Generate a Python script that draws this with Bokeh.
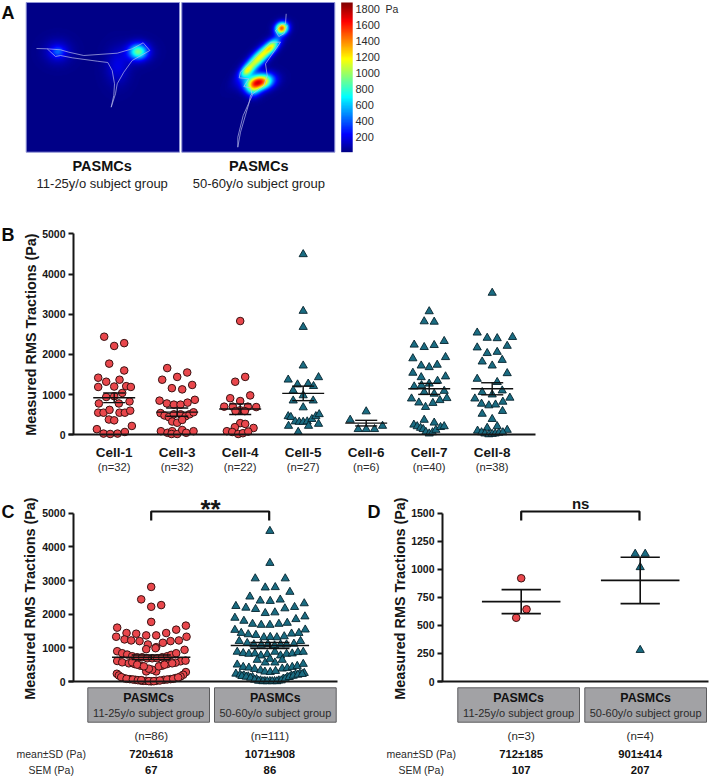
import math
import numpy as np
from bokeh.plotting import figure
from bokeh.models import Range1d, LinearAxis, FixedTicker, LinearColorMapper
from bokeh.core.properties import value
from bokeh.embed import file_html
from bokeh.resources import INLINE

W, H = 724, 777
FONT = "Liberation Sans"
RED = "#e9474c"
TEAL = "#1a6c82"
RED_EDGE = "#3a1212"
TEAL_EDGE = "#06222c"
INK = "#161616"

# ---------- panel B: values (Pa) and swarm offsets (thirds of a pixel) ----------
cells = ["Cell-1", "Cell-3", "Cell-4", "Cell-5", "Cell-6", "Cell-7", "Cell-8"]
cell_n = ["(n=32)", "(n=32)", "(n=22)", "(n=27)", "(n=6)", "(n=40)", "(n=38)"]
cell_mean = [920, 565, 640, 1030, 290, 1145, 1145]
cell_sem_hi = [1040, 665, 770, 1210, 360, 1280, 1295]
cell_sem_lo = [800, 460, 505, 850, 220, 1005, 995]

cell1_v = [2440,2210,2280,1770,1600,1420,1320,1370,1190,1200,1210,1190,1040,940,960,780,780,830,550,550,620,550,550,600,380,360,140,220,30,20,30,70]
cell1_d = [-30,0,30,-15,30,-48,-24,16,-48,0,36,50,24,-24,0,-46,14,46,-48,-32,-14,16,32,48,-16,0,-52,53,-32,-12,10,32]
cell3_v = [1660,1370,1440,1550,1160,1130,1240,850,780,750,750,800,870,540,480,440,510,510,460,510,560,330,300,370,90,50,90,20,20,120,50,90]
cell3_d = [-30,-45,0,30,-16,15,45,-53,-31,-10,10,31,53,-50,-38,-25,-10,10,25,37,49,-15,0,15,-49,-29,-15,-17,0,15,27,49]
cell4_v = [2830,1320,1440,910,840,980,700,700,610,700,690,590,590,290,270,190,170,90,70,20,40,80]
cell4_d = [0,-15,15,-30,0,30,-48,-22,0,23,48,-14,14,0,15,-16,40,-40,-24,-6,8,24]
cell5_v = [4490,3080,2680,1720,1430,1370,1250,1270,1210,1100,980,850,850,680,460,440,330,320,320,330,390,460,510,270,220,220,70]
cell5_d = [0,0,0,0,46,-45,-17,15,31,-30,0,-30,30,0,-45,-37,-24,-12,0,12,26,38,48,46,16,-44,-15]
cell6_v = [580,370,140,140,140,220]
cell6_d = [0,-48,-24,0,25,49]
cell7_v = [3070,2820,2810,2240,2180,2230,2330,1900,1930,1720,1680,1740,1540,1430,1450,1200,1270,1340,1230,1020,1090,1060,900,800,790,860,910,690,370,300,250,210,170,140,70,30,60,120,190,210]
cell7_d = [0,-15,15,-45,-15,15,45,-49,49,-24,0,24,-49,-24,49,-45,0,25,-23,15,45,-15,-53,-31,11,32,53,-11,-15,15,-46,-36,-26,-18,-10,0,10,20,34,45]
cell8_v = [3530,2540,2410,2400,2430,2170,2210,2030,2060,1820,1720,1860,1530,1390,1310,1060,1000,1100,900,920,820,770,730,750,520,590,390,170,210,100,120,60,30,10,20,30,50,60]
cell8_d = [0,-45,-15,15,61,-45,45,-15,15,-30,0,30,45,-45,15,-30,0,30,-52,53,32,-32,-10,10,-30,31,0,-15,15,-44,45,-32,-22,-10,0,9,20,32]

# ---------- panel C ----------
young_v = [2810,2440,2220,2270,1770,1600,1540,1660,1440,1420,1370,1370,1440,1330,1250,1220,1200,1100,1020,1150,1200,1220,1330,960,990,
           900,840,800,750,720,720,690,690,690,720,750,790,840,940,610,570,540,520,470,600,620,560,520,470,300,300,350,380,230,180,280,200,150,
           100,70,50,30,20,5,20,50,70,100,130,80,60,40,20,10,10,30,60,80,120,570,500,450,450,500,540,40]
young_d = [0,-30,0,30,0,-102,75,104,-74,-45,-15,15,45,-105,-80,-60,-35,-10,15,35,58,83,106,-15,13,
           -102,-87,-72,-57,-42,-27,-12,3,18,33,48,60,75,100,-102,-87,-67,-50,-32,88,103,73,48,33,-15,15,3,-7,-103,-97,104,96,88,
           -82,-64,-47,-32,-15,0,15,38,58,73,-90,-74,-55,-40,-24,-7,8,26,48,66,81,-57,-42,-22,23,40,63,-30]
old_v = [4470,3520,3060,3060,2790,2800,2660,2520,2400,2390,2430,2240,2190,2150,2030,2050,2170,2210,2320,
         1890,1800,1710,1680,1680,1710,1740,1850,1930,1530,1440,1400,1380,1310,1320,1310,1340,1420,1440,1540,
         1200,1140,1100,1090,1110,1070,1100,1100,1120,1200,880,840,820,830,770,810,880,770,820,830,870,880,
         560,560,670,640,640,500,430,410,370,330,290,280,310,380,400,430,460,520,
         230,200,180,150,130,70,30,10,10,10,30,80,130,170,210,230,250,
         160,140,110,50,20,5,5,5,5,30,80,130,170,200,220]
old_d = [0,0,-44,46,-14,16,60,-60,-29,1,31,-102,-72,-43,-14,15,45,74,103,
         -105,-78,-52,-26,0,27,52,78,105,-105,-86,-65,-42,-18,1,21,43,65,87,106,
         -92,-68,-48,-26,-6,14,32,50,72,92,-98,-80,-63,-45,-27,-8,15,32,50,67,84,100,
         -14,15,0,-38,37,-98,-80,-63,-46,-28,-15,1,17,37,52,67,82,100,
         -102,-90,-78,-65,-52,-40,-28,-15,0,14,27,40,52,64,77,90,103,
         -84,-71,-58,-46,-34,-21,-8,7,21,34,46,58,70,84,97]

# ---------- panel D ----------
subj_young_v = [920, 643, 568]
subj_young_d = [0, 16, -15]
subj_old_v = [1137, 1137, 1018, 280]
subj_old_d = [-15, 15, 0, 0]

group_mean_c = [720, 1071]
group_sem_c = [67, 86]
group_mean_d = [712, 901]
group_sem_d = [107, 207]
group_titles = ["PASMCs", "PASMCs"]
group_ages = ["11-25y/o subject group", "50-60y/o subject group"]
c_n = ["(n=86)", "(n=111)"]
c_sd = ["720\u00b1618", "1071\u00b1908"]
c_sem = ["67", "86"]
d_n = ["(n=3)", "(n=4)"]
d_sd = ["712\u00b1185", "901\u00b1414"]
d_sem = ["107", "207"]

# ---------- panel A: colour scale and force blobs ----------
scale_ticks = [1800, 1600, 1400, 1200, 1000, 800, 600, 400, 200]
blob_x = [57.3, 57.3, 137.5, 137.5, 117, 280.7, 258, 245.7, 271, 258, 252]
blob_y = [51.7, 51.7, 51.7, 51.7, 66, 28.3, 58, 71, 46.7, 82, 90]
blob_a = [0, 0, 0, 0, 0, -30, -45, -45, -45, -12, 0]
blob_l = [4.5, 9, 6, 9, 8, 4.5, 15, 5, 6, 9, 5]
blob_s = [3.5, 8, 5, 7, 12, 4, 4.4, 3.2, 3.4, 5.2, 5]
blob_v = [220, 190, 650, 260, 170, 1450, 1150, 560, 600, 1650, 450]

outline_1x = [36,46.7,55,60,71.7,96.7,107.3,111.7,114,113.3,110.7,115,116.7,123.3,131.7,149.3,142.7,131.7,116.7,83.3,68.3,60,46.7]
outline_1y = [48,48.3,56,55,57.3,60.7,62,70,83.3,95,106.7,93.3,83.3,71.7,60,50,42.3,48.3,52.7,55,51.7,49.3,48.3]
outline_2x = [285.7,285,280.7,275,278.3,283.3,286.7]
outline_2y = [13.3,23.3,24,30,36,33.3,25]
outline_3x = [280,270,240,238.7,248.3,243.3,250,251.7,242.7,237.3,237.3,240,248.3,250,263.3,266.7,265,280]
outline_3y = [41.7,41.7,71.7,77.3,78.3,86,87.3,95,115,136.7,146.7,131.7,103.3,95,85,75,63.3,41.7]

# ---------- page scales ----------
def x_scale(v0, p0, v1, p1):
    s = (v1 - v0) / (p1 - p0)
    return Range1d(v0 - p0 * s, v0 + (W - p0) * s)

def y_scale(v0, p0, v1, p1):
    s = (v1 - v0) / (p1 - p0)
    return Range1d(v0 + (H - p0) * s, v0 - p0 * s)

p = figure(width=W, height=H, output_backend="svg", toolbar_location=None,
           x_axis_type=None, y_axis_type=None,
           x_range=Range1d(0, W), y_range=Range1d(H, 0),
           min_border=0, outline_line_color=None)
p.grid.visible = False
p.extra_x_ranges = {"bx": x_scale(0, 113.7, 1, 176.7), "cx": x_scale(0, 150.7, 1, 269.4), "dx": x_scale(0, 520.7, 1, 639.7)}
p.extra_y_ranges = {"by": y_scale(0, 434.3, 5000, 233.3), "cy": y_scale(0, 681, 5000, 512.7),
                    "dy": y_scale(0, 681, 1500, 512.7), "iy": Range1d(0, H)}

def to_x(name, px):
    r = p.extra_x_ranges[name]
    return r.start + (r.end - r.start) * px / W

def txt(xs, ys, labels, size, bold=False, color=INK, align="center", angle=0, **kw):
    p.text(x=xs, y=ys, text=labels, text_font=value(FONT), text_font_size=size,
           text_font_style="bold" if bold else "normal", text_color=color,
           text_align=align, text_baseline="middle", angle=angle, **kw)

# ---------- panel A ----------
def jet(t):
    r = np.clip(1.5 - abs(4 * t - 3), 0, 1)
    g = np.clip(1.5 - abs(4 * t - 2), 0, 1)
    b = np.clip(1.5 - abs(4 * t - 1), 0, 1)
    return "#%02x%02x%02x" % (int(r * 255), int(g * 255), int(b * 255))

mapper = LinearColorMapper(palette=[jet(i / 255) for i in range(256)], low=-20, high=1875)

def field(x0, x1, y0, y1):
    xs, ys = np.meshgrid(np.arange(x0, x1, 0.5), np.arange(y1, y0, -0.5))
    f = np.zeros_like(xs)
    for bx, by, a, l, s, v in zip(blob_x, blob_y, blob_a, blob_l, blob_s, blob_v):
        c, n = math.cos(math.radians(a)), math.sin(math.radians(a))
        u = (xs - bx) * c + (ys - by) * n
        w = -(xs - bx) * n + (ys - by) * c
        f += v * np.exp(-0.5 * ((u / l) ** 2 + (w / s) ** 2))
    return f

for x0, x1 in [(25.7, 179), (181.3, 334.3)]:
    p.image(image=[field(x0, x1, 2, 151.7)], x=[x0], y=[H - 151.7], dw=[x1 - x0], dh=[149.7],
            color_mapper=mapper, y_range_name="iy")
    p.quad(left=[x0], right=[x1], top=[2], bottom=[151.7], fill_color=None, line_color="#8f93d6", line_width=1)

ramp = np.linspace(0, 1875, 256).reshape(-1, 1)
p.image(image=[ramp], x=[340.7], y=[H - 151.7], dw=[11.5], dh=[149.7], color_mapper=mapper, y_range_name="iy")

p.multi_line(xs=[outline_1x, outline_2x, outline_3x], ys=[outline_1y, outline_2y, outline_3y],
             line_color="#b8bbea", line_width=0.7)

txt([355] * len(scale_ticks), [8 + 16 * i for i in range(len(scale_ticks))], [str(t) for t in scale_ticks],
    "11px", color="#2a2a2a", align="left")
txt([385], [8], ["Pa"], "10.5px", color="#2a2a2a", align="left")
txt([101.7, 258.3], [165.7, 165.7], group_titles, "14.5px", bold=True, color="#111111")
txt([101.7, 258.3], [182.7, 182.7], group_ages, "13px", color="#222222")

txt([1, 1, 1, 367], [12.5, 234, 511, 511], ["A", "B", "C", "D"], "18px", bold=True, color="#0b0b0b", align="left")

# ---------- shared drawing ----------
def y_axis(xname, yname, px, ticks, bound):
    ax = LinearAxis(x_range_name=xname, y_range_name=yname, fixed_location=to_x(xname, px),
                    ticker=FixedTicker(ticks=ticks), bounds=bound,
                    axis_line_color=INK, axis_line_width=2,
                    major_tick_line_color=INK, major_tick_line_width=1.8,
                    major_tick_in=0, major_tick_out=5, minor_tick_line_color=None,
                    major_label_text_font=FONT, major_label_text_font_style="bold",
                    major_label_text_font_size="10.5px", major_label_text_color=INK,
                    major_label_standoff=3)
    p.add_layout(ax, "left")

def x_axis(xname, yname, px0, px1, ticks=(), labels=None, **kw):
    ax = LinearAxis(x_range_name=xname, y_range_name=yname, fixed_location=0,
                    ticker=FixedTicker(ticks=list(ticks)), bounds=(to_x(xname, px0), to_x(xname, px1)),
                    major_tick_line_color=None, minor_tick_line_color=None,
                    major_label_overrides=labels or {}, **kw)
    p.add_layout(ax, "below")

def swarm(vals, offs, pos, unit, marker, xname, yname):
    xs = [pos + d / unit for d in offs]
    if marker == "circle":
        p.scatter(xs, vals, marker="circle", size=7.6, fill_color=RED, line_color=RED_EDGE, line_width=1,
                  x_range_name=xname, y_range_name=yname)
    else:
        p.scatter(xs, vals, marker="triangle", size=8.2, fill_color=TEAL, line_color=TEAL_EDGE, line_width=0.9,
                  x_range_name=xname, y_range_name=yname)

def error_bars(pos, means, his, los, half, cap, lw, xname, yname):
    x0 = [x - half for x in pos] + [x - cap for x in pos] + [x - cap for x in pos] + list(pos)
    x1 = [x + half for x in pos] + [x + cap for x in pos] + [x + cap for x in pos] + list(pos)
    y0 = list(means) + list(his) + list(los) + list(los)
    y1 = list(means) + list(his) + list(los) + list(his)
    p.segment(x0, y0, x1, y1, line_color="#101010", line_width=lw, x_range_name=xname, y_range_name=yname)

# ---------- panel B ----------
y_axis("bx", "by", 73, [0, 1000, 2000, 3000, 4000, 5000], (0, 5000))
positions = list(range(len(cells)))
x_axis("bx", "by", 68, 535, positions, {i: c for i, c in zip(positions, cells)},
       axis_line_color=INK, axis_line_width=2, major_label_text_font=FONT,
       major_label_text_font_style="bold", major_label_text_font_size="13.5px",
       major_label_text_color=INK, major_label_standoff=4)
x_axis("bx", "by", 68, 535, positions, {i: c for i, c in zip(positions, cell_n)},
       axis_line_color=None, major_label_text_font=FONT,
       major_label_text_font_size="11.2px", major_label_text_color="#2a2a2a", major_label_standoff=20)
for i, (v, d) in enumerate([(cell1_v, cell1_d), (cell3_v, cell3_d), (cell4_v, cell4_d)]):
    swarm(v, d, i, 189, "circle", "bx", "by")
for i, (v, d) in enumerate([(cell5_v, cell5_d), (cell6_v, cell6_d), (cell7_v, cell7_d), (cell8_v, cell8_d)]):
    swarm(v, d, i + 3, 189, "triangle", "bx", "by")
error_bars(positions, cell_mean, cell_sem_hi, cell_sem_lo, 0.333, 0.175, 1.4, "bx", "by")
txt([30], [334], ["Measured RMS Tractions (Pa)"], "14.4px", bold=True, angle=math.pi / 2)

# ---------- panels C and D ----------
def group_panel(xn, yn, axis_px, end_px, ticks, top, means, sems, boxes, label_x, n, sd, sem, mark, ylab_x):
    y_axis(xn, yn, axis_px, ticks, (0, top))
    x_axis(xn, yn, axis_px - 5, end_px, axis_line_color=INK, axis_line_width=2, major_label_text_font_size="0px")
    pos = [0, 1]
    hi = [m + s for m, s in zip(means, sems)]
    lo = [m - s for m, s in zip(means, sems)]
    error_bars(pos, means, hi, lo, 0.33, 0.165, 1.6, xn, yn)
    p.line([0, 0, 0.994, 0.994], [520, 511, 511, 520], x_range_name=xn, line_color="#111111", line_width=2.2)
    txt([0.5], [mark[1]], [mark[0]], mark[2], bold=mark[3], x_range_name=xn)
    for left, right in boxes:
        p.quad(left=[left], right=[right], top=[687.3], bottom=[721.7], fill_color="#a2a2a5",
               line_color="#5c5c5e", line_width=1)
    centers = [(l + r) / 2 for l, r in boxes]
    txt(centers, [697.5, 697.5], group_titles, "12.4px", bold=True, color="#111111")
    txt(centers, [712, 712], group_ages, "11px", color="#2b2b2b")
    txt(pos, [735.3, 735.3], n, "11.5px", color="#2a2a2a", x_range_name=xn)
    txt(pos, [753, 753], sd, "11.3px", bold=True, color="#111111", x_range_name=xn)
    txt(pos, [769, 769], sem, "11.3px", bold=True, color="#111111", x_range_name=xn)
    txt([label_x, label_x], [753, 769], ["mean\u00b1SD (Pa)", "SEM (Pa)"], "10.5px", color="#2a2a2a")
    txt([ylab_x], [598], ["Measured RMS Tractions (Pa)"], "14.4px", bold=True, angle=math.pi / 2)

swarm(young_v, young_d, 0, 356, "circle", "cx", "cy")
swarm(old_v, old_d, 1, 356, "triangle", "cx", "cy")
group_panel("cx", "cy", 73, 337, [0, 1000, 2000, 3000, 4000, 5000], 5000, group_mean_c, group_sem_c,
            [(87.3, 209), (214, 335.7)], 50.7, c_n, c_sd, c_sem, ("**", 508, "26px", True), 29)

swarm(subj_young_v, subj_young_d, 0, 357, "circle", "dx", "dy")
swarm(subj_old_v, subj_old_d, 1, 357, "triangle", "dx", "dy")
group_panel("dx", "dy", 442, 708, [0, 250, 500, 750, 1000, 1250, 1500], 1500, group_mean_d, group_sem_d,
            [(457.3, 579), (584.3, 706)], 420.7, d_n, d_sd, d_sem, ("ns", 503, "15px", True), 399)

open("out.html", "w").write(file_html(p, INLINE))
